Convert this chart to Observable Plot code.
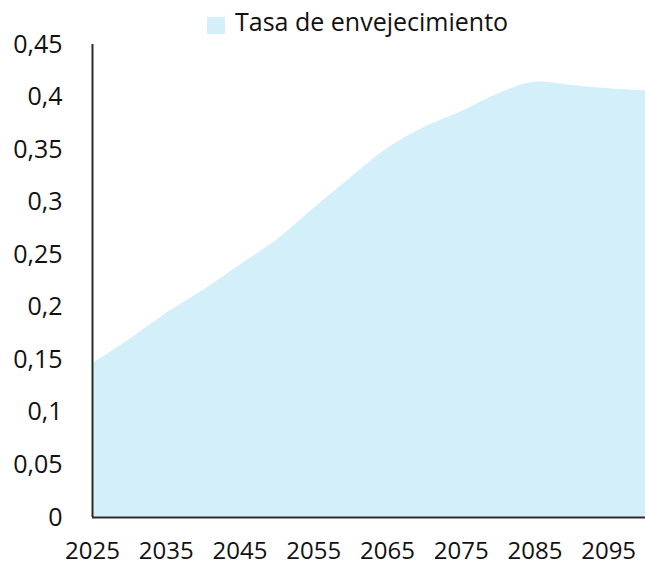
<!DOCTYPE html>
<html>
<head>
<meta charset="utf-8">
<script src="https://cdn.jsdelivr.net/npm/d3@7"></script>
<script src="https://cdn.jsdelivr.net/npm/@observablehq/plot@0.6"></script>
<style>
  html, body { margin: 0; padding: 0; background: #fff; }
  body { width: 645px; height: 568px; overflow: hidden; font-family: "Open Sans", sans-serif; position: relative; }
  #legend { position: absolute; left: 0; top: 0; width: 645px; height: 40px; z-index: 2; }
  #legend .sw { position: absolute; left: 207px; top: 17px; width: 18px; height: 17px; background: #d3eff9; }
  #legend .lb { position: absolute; left: 235px; top: 4px; font-size: 25px; color: #111; line-height: 35px; white-space: nowrap; }
  #chart { position: absolute; left: 0; top: 0; }
</style>
</head>
<body>
<div id="chart"></div>
<div id="legend"><span class="sw"></span><span class="lb">Tasa de envejecimiento</span></div>
<script>
const years = [2025, 2030, 2035, 2040, 2045, 2050, 2055, 2060, 2065, 2070, 2075, 2080, 2085, 2090, 2095, 2100];
const tasa  = [0.146, 0.169, 0.194, 0.216, 0.240, 0.264, 0.294, 0.323, 0.351, 0.371, 0.386, 0.403, 0.414, 0.411, 0.408, 0.406];
const yTicks = [0, 0.05, 0.1, 0.15, 0.2, 0.25, 0.3, 0.35, 0.4, 0.45];
const xTicks = [2025, 2035, 2045, 2055, 2065, 2075, 2085, 2095];

const data = years.map((y, i) => ({year: y, value: tasa[i]}));
const fmt = v => String(v).replace(".", ",");

const chart = Plot.plot({
  width: 645,
  height: 568,
  marginTop: 44,
  marginBottom: 51,
  marginLeft: 92,
  marginRight: 0,
  style: {fontFamily: "'Open Sans', sans-serif", fontSize: "24px", color: "#111", background: "#fff"},
  x: {domain: [2025, 2100], label: null},
  y: {domain: [0, 0.45], label: null},
  marks: [
    Plot.areaY(data, {x: "year", y: "value", fill: "#d3eff9", curve: "catmull-rom"}),
    Plot.axisX({ticks: xTicks, tickFormat: d => String(d), tickSize: 0, tickPadding: 24, fontSize: 24, label: null}),
    Plot.axisY({ticks: yTicks, tickFormat: fmt, tickSize: 0, tickPadding: 30, fontSize: 25, label: null}),
    Plot.ruleX([2025], {stroke: "#2b2b2b", strokeWidth: 2}),
    Plot.ruleY([0], {stroke: "#2b2b2b", strokeWidth: 2})
  ]
});
document.getElementById("chart").appendChild(chart);
</script>
</body>
</html>
